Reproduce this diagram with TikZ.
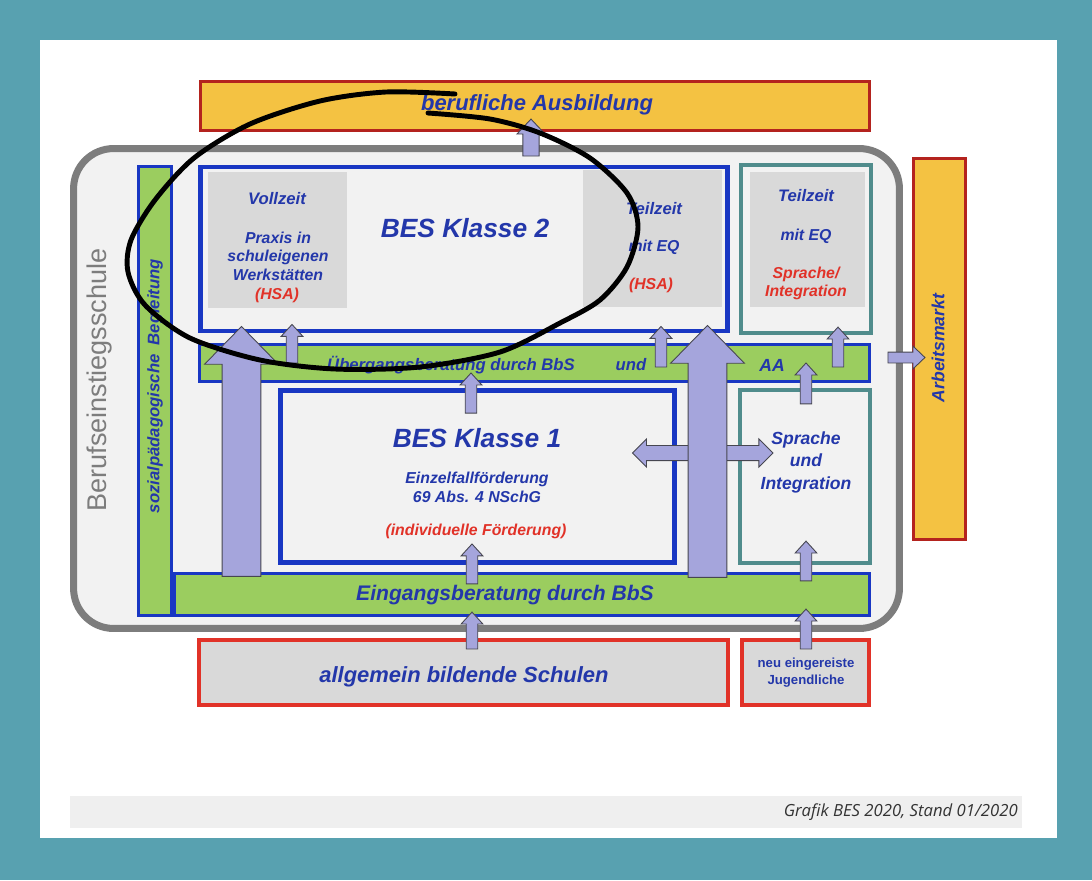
\documentclass[tikz,border=0pt]{standalone}
\usepackage{fontspec}
\setmainfont{Liberation Sans}
\newfontfamily\capfont{Open Sans}
\usetikzlibrary{calc}
\definecolor{bgteal}{RGB}{88,161,176}
\definecolor{txtblue}{RGB}{35,55,170}
\definecolor{txtred}{RGB}{225,50,40}
\definecolor{boxblue}{RGB}{25,55,195}
\definecolor{barfill}{RGB}{155,205,95}
\definecolor{ausfill}{RGB}{244,194,66}
\definecolor{ausline}{RGB}{180,35,30}
\definecolor{schline}{RGB}{225,50,40}
\definecolor{tealline}{RGB}{80,140,140}
\definecolor{panelgray}{RGB}{217,217,217}
\definecolor{lightfill}{RGB}{242,242,242}
\definecolor{outergray}{RGB}{125,125,125}
\definecolor{lav}{RGB}{165,165,220}
\definecolor{lavline}{RGB}{70,70,80}
\definecolor{capbar}{RGB}{239,239,239}
\tikzset{
  bluebox/.style={draw=boxblue, line width=2.8pt, fill=lightfill},
  tealbox/.style={draw=tealline, line width=2.4pt, fill=lightfill},
  greenbar/.style={draw=boxblue, line width=1.8pt, fill=barfill},
  yellowbar/.style={draw=ausline, line width=1.8pt, fill=ausfill},
  redbox/.style={draw=schline, line width=2.3pt, fill=panelgray},
  graypanel/.style={fill=panelgray},
  lbl/.style 2 args={text=txtblue, align=center, inner sep=0pt, font=\fontsize{#1}{#2}\selectfont\bfseries\itshape},
  redlbl/.style 2 args={lbl={#1}{#2}, text=txtred},
  fatarr/.style={draw=lavline, fill=lav, line width=0.5pt},
}
% block arrow: start, tip, half shaft, half head, head length
\newcommand{\fatarrow}[5]{%
  \draw[fatarr] let \p1=(#1), \p2=(#2),
    \n1={atan2(\y2-\y1,\x2-\x1)}, \n2={veclen(\x2-\x1,\y2-\y1)} in
    [shift={(\p1)}, rotate=\n1]
    (0pt,-#3) -- ({\n2-#5},-#3) -- ({\n2-#5},-#4) -- (\n2,0pt)
    -- ({\n2-#5},#4) -- ({\n2-#5},#3) -- (0pt,#3) -- cycle;}
\newcommand{\smallarrow}[2]{\fatarrow{#1}{#2}{3.3pt}{6.2pt}{6.8pt}}
\newcommand{\bigarrow}[2]{\fatarrow{#1}{#2}{11pt}{21pt}{21.5pt}}

\begin{document}
\begin{tikzpicture}[x=0.02cm, y=-0.02cm]
\useasboundingbox (0,0) rectangle (1092,880);
\fill[bgteal] (0,0) rectangle (1092,880);
\fill[white] (40,40) rectangle (1057,838);
\fill[capbar] (70,796) rectangle (1022,828);
\node[anchor=east, inner sep=0pt, text=black!80, font=\capfont\itshape\fontsize{9.5}{11}\selectfont] (cap) at (1018,812) {Grafik BES 2020, Stand 01/2020};

% frame and bars
\node[yellowbar, minimum width=13.38cm, minimum height=0.98cm] (aus) at (535,106) {};
\node[yellowbar, minimum width=1.04cm, minimum height=7.62cm] (arb) at (939.5,349) {};
\node[draw=outergray, line width=4pt, fill=lightfill, rounded corners=0.8cm,
  minimum width=16.52cm, minimum height=9.6cm] (bes) at (486.5,388.5) {};
\node[greenbar, minimum width=0.66cm, minimum height=8.98cm] (soz) at (155,391) {};
\node[greenbar, minimum width=13.9cm, minimum height=0.84cm] (ein) at (522,594.5) {};
\node[greenbar, minimum width=13.4cm, minimum height=0.74cm] (ueb) at (534.5,363) {};

% classes
\node[bluebox, minimum width=10.56cm, minimum height=3.28cm] (k2) at (464,249) {};
\node[graypanel, minimum width=2.78cm, minimum height=2.72cm] (voll) at (277.5,240) {};
\node[graypanel, minimum width=2.78cm, minimum height=2.74cm] (teil) at (652.5,238.5) {};
\node[tealbox, minimum width=2.6cm, minimum height=3.36cm] (tz) at (806,249) {};
\node[graypanel, minimum width=2.3cm, minimum height=2.7cm] (tzin) at (807.5,239.5) {};
\node[bluebox, minimum width=7.88cm, minimum height=3.44cm] (k1) at (477.5,476.5) {};
\node[tealbox, minimum width=2.6cm, minimum height=3.46cm] (si) at (805,476.5) {};
\node[redbox, minimum width=10.58cm, minimum height=1.3cm] (abs) at (463.5,672.5) {};
\node[redbox, minimum width=2.54cm, minimum height=1.3cm] (neu) at (805.5,672.5) {};

% texts
\node[lbl={12.5}{15}] (austxt) at (537,105) {berufliche Ausbildung};
\node[lbl={10}{12}, rotate=90] (arbtxt) at (938,348) {Arbeitsmarkt};
\node[rotate=90, inner sep=0pt, text=outergray, font=\fontsize{15.4}{18}\selectfont] (bestxt) at (100,380) {Berufseinstiegsschule};
\node[lbl={9.5}{11}, rotate=90] (soztxt) at (155,386) {sozialpädagogische\ \ Begleitung};
\node[lbl={15}{18}] (k2txt) at (465,228) {BES Klasse 2};
\node[lbl={9.5}{11}] (volltxt) at (277,199) {Vollzeit};
\node[lbl={9}{10.5}] (praxtxt) at (278,256) {Praxis in\\schuleigenen\\Werkstätten};
\node[redlbl={9}{11}] (hsa1) at (277,295) {(HSA)};
\node[lbl={9.5}{11}] (teiltxt) at (654,209) {Teilzeit};
\node[lbl={9}{11}] (eq1) at (654,247) {mit EQ};
\node[redlbl={9}{11}] (hsa2) at (651,285) {(HSA)};
\node[lbl={9.5}{11}] (tztxt) at (806,196) {Teilzeit};
\node[lbl={9}{11}] (eq2) at (806,236) {mit EQ};
\node[redlbl={9}{10.2}] (sprtxt) at (806,283) {Sprache/\\Integration};
\node[lbl={9.5}{11}] (uebtxt) at (451,365) {Übergangsberatung durch BbS};
\node[lbl={9.5}{11}] (undtxt) at (631,365) {und};
\node[lbl={10}{12}] (aatxt) at (772,365) {AA};
\node[lbl={15}{18}] (k1txt) at (477,438) {BES Klasse 1};
\node[lbl={9}{10.8}] (einzeltxt) at (477,487.5) {Einzelfallförderung\\69 Abs. 4 NSchG};
\node[redlbl={9}{11}] (indtxt) at (476,531) {(individuelle Förderung)};
\node[lbl={10}{12.8}] (sitxt) at (806,462) {Sprache\\und\\Integration};
\node[lbl={12}{14}] (eintxt) at (505,595) {Eingangsberatung durch BbS};
\node[lbl={12.5}{15}] (abstxt) at (464,677) {allgemein bildende Schulen};
\node[text=txtblue, align=center, inner sep=0pt, font=\fontsize{7.5}{9.6}\selectfont\bfseries] (neutxt) at (806,672.5) {neu eingereiste\\Jugendliche};

% arrows
\coordinate (hub) at (707.5,453);
\fatarrow{hub}{$(k1.east |- hub)+(-44.5,0)$}{4.3pt}{8pt}{8pt}
\fatarrow{hub}{$(si.west |- hub)+(35,0)$}{4.3pt}{8pt}{8pt}
\bigarrow{$(241.5,0 |- ein.north)+(0,4.5)$}{$(241.5,0 |- k2.south)+(0,-7)$}
\bigarrow{$(707.5,0 |- ein.north)+(0,5.5)$}{$(707.5,0 |- k2.south)+(0,-8)$}
\fatarrow{$(531,0 |- bes.north)+(0,11)$}{$(531,0 |- aus.south)+(0,-13)$}{4.6pt}{8pt}{8.5pt}
\fatarrow{$(bes.east)+(-15,-31)$}{$(arb.west)+(13,8.5)$}{3.1pt}{6.5pt}{6.8pt}
\smallarrow{292,0 |- ueb}{$(292,0 |- k2.south)+(0,-9)$}
\smallarrow{$(661,0 |- ueb)+(0,4)$}{$(661,0 |- k2.south)+(0,-7)$}
\smallarrow{$(838,0 |- ueb)+(0,4)$}{$(838,0 |- tz.south)+(0,-8)$}
\smallarrow{$(806,0 |- si.north)+(0,16)$}{806,0 |- ueb}
\smallarrow{$(471,0 |- k1.north)+(0,25)$}{$(471,0 |- ueb)+(0,10)$}
\smallarrow{$(472,0 |- ein.north)+(0,12)$}{$(472,0 |- k1.south)+(0,-21)$}
\smallarrow{$(806,0 |- ein.north)+(0,9)$}{$(806,0 |- si.south)+(0,-24)$}
\smallarrow{$(472,0 |- abs.north)+(0,11)$}{$(472,0 |- ein.south)+(0,-5)$}
\smallarrow{$(806,0 |- neu.north)+(0,11)$}{$(806,0 |- ein.south)+(0,-8)$}

% hand drawn mark
\draw[line width=2.8pt, line cap=round] plot[smooth] coordinates {(455,94) (386,92) (320,101) (250,124) (194,158) (155,200) (131,240) (128,272) (145,305) (190,338) (260,360) (335,369) (420,367) (500,352) (560,323) (600,300) (627,267) (638,227) (627,193) (590,158) (540,133) (490,119) (428,113)};
\end{tikzpicture}
\end{document}
